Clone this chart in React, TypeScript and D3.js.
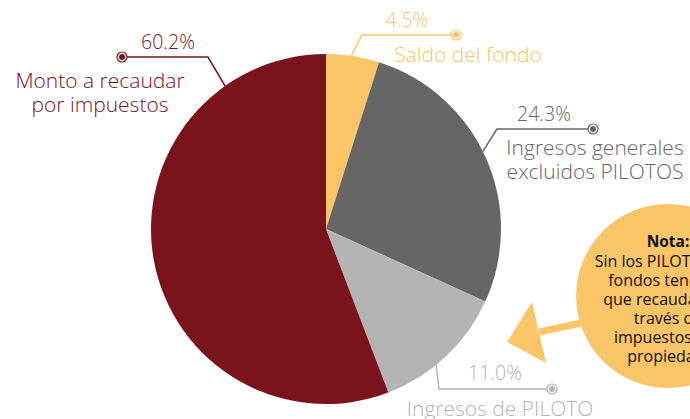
import React from 'react';
import * as d3 from 'd3';

// slice sizes as drawn in the picture; labels as printed
const categories = ['Saldo del fondo', 'Ingresos generales excluidos PILOTOS', 'Ingresos de PILOTO', 'Monto a recaudar por impuestos'];
const sliceValues = [4.9, 26.9, 12.4, 55.8];
const pctLabels = ['4.5%', '24.3%', '11.0%', '60.2%'];
const nameLines = [['Saldo del fondo'], ['Ingresos generales', 'excluidos PILOTOS'], ['Ingresos de PILOTO'], ['Monto a recaudar', 'por impuestos']];
const colors = ['#F9C567', '#666666', '#B4B4B4', '#7B131C'];
const noteLines = ['Sin los PILOTOS, los', 'fondos tendrían', 'que recaudarse a', 'través de', 'impuestos a la', 'propiedad.'];

const W = 690;
const H = 419;
const cx = 326;
const cy = 229;
const R = 175;
const FONT = "'Open Sans', sans-serif";

// leader layout: angle on the rim (deg), elbow, marker, percent pos, name pos
const leaders = [
  { angle: 8.3, elbow: [362, 35], marker: [456, 35], pct: [407, 27], name: [468, 62] },
  { angle: 63.7, elbow: [497, 129], marker: [593, 129], pct: [544, 121], name: [595, 155] },
  { angle: 141, elbow: [439, 389], marker: [552, 389], pct: [495, 380], name: [500, 416] },
  { angle: 324.8, elbow: [208, 57], marker: [122, 57], pct: [168, 49], name: [100, 88] },
];

const App = () => {
  const pie = d3.pie<number>().sort(null).value((d) => d);
  const arc = d3.arc<d3.PieArcDatum<number>>().innerRadius(0).outerRadius(R);
  const pieData = pie(sliceValues);

  const rim = (deg: number) => {
    const a = (deg * Math.PI) / 180;
    return [cx + R * Math.sin(a), cy - R * Math.cos(a)];
  };

  return (
    <svg width={W} height={H} style={{ position: 'absolute', left: 0, top: 0 }} fontFamily={FONT}>
      <title>{categories.join(', ')}</title>
      <g transform={`translate(${cx}, ${cy})`}>
        {pieData.map((slice, i) => (
          <path key={i} d={arc(slice) || ''} fill={colors[i]} />
        ))}
      </g>

      {leaders.map((l, i) => {
        const p = rim(l.angle);
        const c = colors[i];
        return (
          <g key={i}>
            <polyline
              points={`${p[0]},${p[1]} ${l.elbow[0]},${l.elbow[1]} ${l.marker[0]},${l.marker[1]}`}
              fill="none"
              stroke={c}
              strokeWidth={1.5}
            />
            <circle cx={l.marker[0]} cy={l.marker[1]} r={5} fill="#fff" stroke={c} strokeWidth={1.2} />
            <circle cx={l.marker[0]} cy={l.marker[1]} r={3} fill={c} />
            <text x={l.pct[0]} y={l.pct[1]} textAnchor="middle" fill={c} fontSize={19.5} fontWeight={300}>
              {pctLabels[i]}
            </text>
            <text x={l.name[0]} y={l.name[1]} textAnchor="middle" fill={c} fontSize={21} fontWeight={300}>
              {nameLines[i].map((t, j) => (
                <tspan key={j} x={l.name[0]} dy={j === 0 ? 0 : 24}>
                  {t}
                </tspan>
              ))}
            </text>
          </g>
        );
      })}

      {/* nota bubble with arrow */}
      <line x1={539} y1={332} x2={600} y2={319} stroke="#F9C567" strokeWidth={7} />
      <polygon points="507,342 532,302 546,363" fill="#F9C567" />
      <circle cx={668} cy={296} r={92} fill="#F9C567" />
      <text x={668} y={247} textAnchor="middle" fontSize={15.5} fill="#111" fontWeight={700}>
        Nota:
      </text>
      <text x={668} y={266.5} textAnchor="middle" fontSize={16} fill="#111">
        {noteLines.map((t, j) => (
          <tspan key={j} x={668} dy={j === 0 ? 0 : 19}>
            {t}
          </tspan>
        ))}
      </text>
    </svg>
  );
};

export default App;
